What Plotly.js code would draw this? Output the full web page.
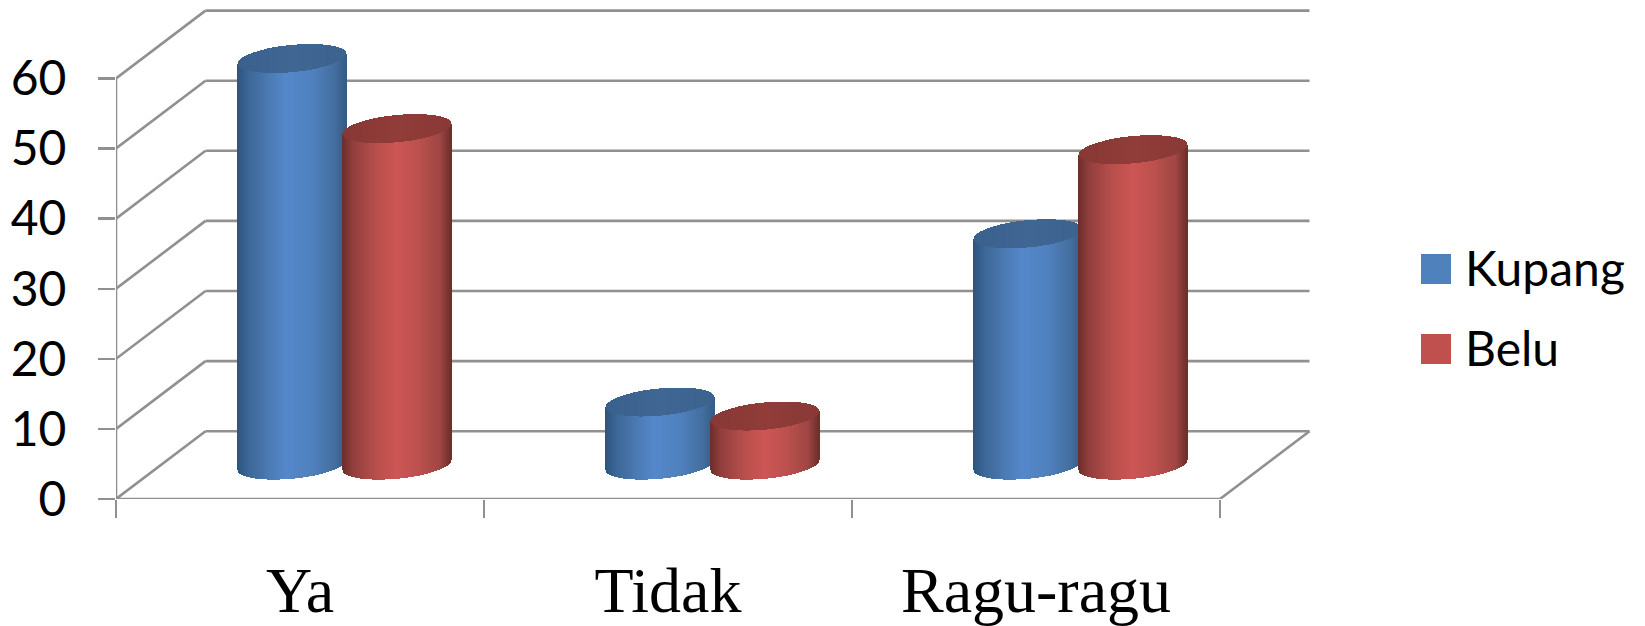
<!DOCTYPE html>
<html>
<head>
<meta charset="utf-8">
<script src="https://cdn.plot.ly/plotly-3.0.1.min.js"></script>
<style>html,body{margin:0;padding:0;background:#fff}#chart{width:1645px;height:626px}</style>
</head>
<body>
<div id="chart"></div>
<script>
// Data
const categories = ['Ya', 'Tidak', 'Ragu-ragu'];
const seriesNames = ['Kupang', 'Belu'];
const kupang = [58, 9, 33];
const belu = [48, 7, 45];
const yTicks = [0, 10, 20, 30, 40, 50, 60];

// Styles / layout constants
const W = 1645, H = 626, L = 116, PLOTH = 499, CATPX = 368, UNITPX = 7.01;
const pxX = 1 / CATPX, pxY = 1 / UNITPX;
const depthX = 89.5 * pxX, depthY = 67.8 * pxY;
const R = 55 * pxX, tilt = 5 * pxY, half = 13.6 * pxY;
const offsets = [-8 * pxX, 97 * pxX];
const gridColor = '#909090';
const legendColors = ['#4f81bd', '#c0504d'];
const bodyStops = [
  [[-1,[46,84,126]],[-0.8,[60,103,150]],[-0.45,[74,120,176]],[-0.1,[85,136,203]],[0.4,[79,128,189]],[0.8,[67,110,158]],[1,[54,92,135]]],
  [[-1,[108,46,44]],[-0.8,[146,64,61]],[-0.4,[181,78,75]],[0,[205,86,84]],[0.4,[187,81,78]],[0.8,[160,70,67]],[1,[112,46,44]]]
];
const capStops = [
  [[-1,[58,96,141]],[0,[64,103,148]],[1,[60,98,142]]],
  [[-1,[135,56,53]],[0,[145,60,57]],[1,[137,57,54]]]
];

function shade(stops, u) {
  for (let i = 1; i < stops.length; i++) {
    if (u <= stops[i][0]) {
      const a = stops[i-1], b = stops[i], t = (u - a[0]) / (b[0] - a[0]);
      return 'rgb(' + a[1].map((c, k) => Math.round(c + (b[1][k] - c) * t)).join(',') + ')';
    }
  }
  return 'rgb(' + stops[stops.length-1][1].join(',') + ')';
}

function cylinder(values, s) {
  const body = {x:[], y:[], base:[], marker:{color:[], line:{width:0}}, type:'bar', width:2*pxX, name:seriesNames[s], showlegend:false, hoverinfo:'skip'};
  const cap  = {x:[], y:[], base:[], marker:{color:[], line:{width:0}}, type:'bar', width:2*pxX, name:seriesNames[s], showlegend:false, hoverinfo:'skip'};
  const floor = depthY / 2;
  const n = 110;
  values.forEach((v, c) => {
    for (let i = 0; i <= n; i++) {
      const u = -1 + 2 * i / n, arc = Math.sqrt(Math.max(0, 1 - u * u)) * half;
      const xc = c + offsets[s] + u * (R - pxX);
      const bottom = floor + tilt * u - arc;
      const topC = floor + v + tilt * u;
      body.x.push(xc); body.base.push(bottom); body.y.push(topC - bottom); body.marker.color.push(shade(bodyStops[s], u));
      cap.x.push(xc); cap.base.push(topC - arc); cap.y.push(2 * arc); cap.marker.color.push(shade(capStops[s], u));
    }
  });
  return [body, cap];
}

// Frame of the 3-D box
const fx = [], fy = [];
function seg(x0, y0, x1, y1) { fx.push(x0, x1, null); fy.push(y0, y1, null); }
const x0 = -0.5, x1 = categories.length - 0.5;
yTicks.forEach(v => {
  seg(x0, v, x0 + depthX, v + depthY);
  seg(x0 + depthX, v + depthY, x1 + depthX, v + depthY);
});
seg(x0, 0, x0, yTicks[yTicks.length-1]);
seg(x0, 0, x1, 0);
seg(x1, 0, x1 + depthX, depthY);

const frame = {x:fx, y:fy, type:'scatter', mode:'lines', line:{color:gridColor, width:2.6}, showlegend:false, hoverinfo:'skip', cliponaxis:false};

const legendY = [269, 349];
const shapes = legendColors.map((col, i) => ({
  type:'rect', xref:'paper', yref:'paper', layer:'above',
  x0:(1421 - L) / (W - L), x1:(1451 - L) / (W - L),
  y0:1 - (legendY[i] + 15) / PLOTH, y1:1 - (legendY[i] - 15) / PLOTH,
  fillcolor:col, line:{width:0}
}));
const annotations = seriesNames.map((name, i) => ({
  text:name, xref:'paper', yref:'paper', x:(1468 - L) / (W - L), y:1 - legendY[i] / PLOTH,
  xanchor:'left', yanchor:'middle', showarrow:false, xshift:-5, yshift:2,
  font:{family:'Lato, "Open Sans", sans-serif', size:48, color:'#000'}
}));

// The library draws scatter above bars, so the cylinders sit in a second, overlaid subplot.
const traces = [frame, ...cylinder(kupang, 0), ...cylinder(belu, 1)];
traces.forEach((t, i) => { if (i > 0) { t.xaxis = 'x2'; t.yaxis = 'y2'; } });

const xRange = [x0, x0 + (W - L) / CATPX], yRange = [0, PLOTH / UNITPX];
Plotly.newPlot('chart', traces, {
  width:W, height:H, showlegend:false, barmode:'overlay', bargap:0,
  paper_bgcolor:'#fff', plot_bgcolor:'rgba(0,0,0,0)',
  margin:{l:L, r:0, t:0, b:H - PLOTH, pad:0},
  xaxis:{
    type:'linear', range:xRange, showgrid:false, zeroline:false, showline:false,
    tickmode:'array', tickvals:categories.map((_, i) => i), ticktext:categories, ticks:'',
    tickfont:{family:'"Liberation Serif", serif', size:64, color:'#000'}, ticklabelstandoff:48,
    minor:{tickmode:'array', tickvals:[0,1,2,3].map(i => i - 0.5), ticks:'outside', ticklen:18, tickwidth:2.4, tickcolor:gridColor, showgrid:false}
  },
  yaxis:{
    range:yRange, showgrid:false, zeroline:false, showline:false,
    tickmode:'array', tickvals:yTicks, ticktext:yTicks.map(String), ticks:'outside', ticklen:17, tickwidth:2.4, tickcolor:gridColor,
    tickfont:{family:'Lato, "Open Sans", sans-serif', size:48, color:'#000'}, ticklabelstandoff:22
  },
  xaxis2:{overlaying:'x', range:xRange, visible:false, anchor:'y2'},
  yaxis2:{overlaying:'y', range:yRange, visible:false, anchor:'x2'},
  shapes, annotations
}, {staticPlot:true, displayModeBar:false});
</script>
</body>
</html>
